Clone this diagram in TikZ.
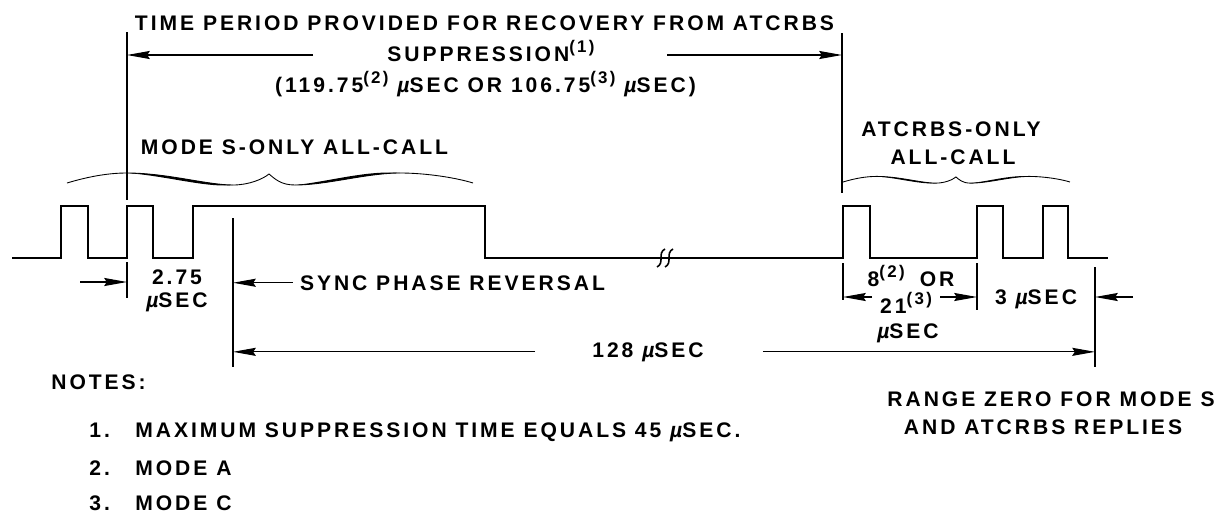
\documentclass[tikz,border=0pt]{standalone}
\usepackage{fontspec}
\setmainfont{Liberation Sans}[LetterSpace=14]
\usetikzlibrary{arrows.meta, positioning}
\tikzstyle{dimarrow} = [line width=0.6pt, -{Stealth[length=13pt,width=4.6pt,inset=1.5pt]}]
\tikzstyle{extline}  = [line width=0.6pt]
\tikzstyle{pulse}    = [line width=1.2pt, line join=miter]
\newcommand{\usec}{{\itshape µ}SEC}
\newcommand{\sref}[1]{\raisebox{4.6pt}{\fontsize{9.6}{10}\selectfont(#1)}}
% calligraphic brace over an all-call group
\tikzset{modebrace/.pic={
    \draw[line width=0.5pt] (0,0) .. controls (20,-6) and (40,-10) .. (60,-10)
        .. controls (100,-10) and (140,2) .. (166,2)
        .. controls (182,2) and (196,-4) .. (202,-9)
        .. controls (208,-4) and (214,2) .. (228,2)
        .. controls (260,2) and (300,-10) .. (333,-10)
        .. controls (360,-10) and (390,-5) .. (406,0);
    \fill (60,-10) .. controls (100,-10) and (140,2) .. (166,2)
        .. controls (140,5) and (100,-7) .. (60,-10);
    \fill (228,2) .. controls (260,2) and (300,-10) .. (333,-10)
        .. controls (300,-13) and (260,-1) .. (228,2);
}}

\begin{document}
\begin{tikzpicture}[x=0.02cm, y=-0.02cm, font=\bfseries\fontsize{12}{14}\selectfont]
        \tikzstyle{lbl}=[inner sep=0pt, anchor=base]
        \useasboundingbox (0,0) rectangle (1229,514);
        % recovery period
        \node (ttl) [lbl] at (484.5,30) {TIME PERIOD PROVIDED FOR RECOVERY FROM ATCRBS};
        \node (sup) [lbl] at (491,61) {SUPPRESSION\sref{1}};
        \node (per) [lbl] at (485.5,92) {(119.75\sref{2} \usec{} OR 106.75\sref{3} \usec)};
        \coordinate (lt) at (127,32);  \coordinate (lb) at (127,200);
        \coordinate (rt) at (842,33);  \coordinate (rb) at (842,193);
        \coordinate (ltail) at (313,55); \coordinate (rtail) at (667,55);
        \draw[extline] (lt) -- (lb);
        \draw[extline] (rt) -- (rb);
        \draw[dimarrow] (ltail) -- (ltail -| lt);
        \draw[dimarrow] (rtail) -- (rtail -| rt);
        % all-call groups
        \node (mso) [lbl] at (294.5,154) {MODE S-ONLY ALL-CALL};
        \node (aco) [lbl] at (951,136) {ATCRBS-ONLY};
        \node (acl) [lbl] at (953,164) {ALL-CALL};
        \pic at (67,183) {modebrace};
        \pic[scale=0.559] at (843,182) {modebrace};
        % pulse train
        \draw[pulse] (12,258) -| (61,206) -| (88,258) -| (127,206) -| (153,258)
            -| (193,206) -| (485,258) -| (843,206) -| (870,258) -| (977,206)
            -| (1003,258) -| (1043,206) -| (1068,258) -- (1108,258);
        \foreach \bx in {661,669}
            \draw[line width=0.9pt] (\bx-4,267) .. controls (\bx+4,263) and (\bx-4,253) .. (\bx+4,249);
        % timing marks
        \coordinate (p2t) at (127,262);  \coordinate (p2b) at (127,298);
        \coordinate (syt) at (233,218);  \coordinate (syb) at (233,367);
        \coordinate (a1t) at (843,263);  \coordinate (a1b) at (843,300);
        \coordinate (a2t) at (977,263);  \coordinate (a2b) at (977,310);
        \coordinate (rzt) at (1095,267); \coordinate (rzb) at (1095,367);
        \foreach \c in {p2,sy,a1,a2,rz}
            \draw[extline] (\c t) -- (\c b);
        \node (tw)  [lbl] at (177,284) {2.75};
        \node (twu) [lbl] at (177,307) {\usec};
        \coordinate (twtail) at (80,282);
        \draw[dimarrow] (twtail) -- (twtail -| p2t);
        \node (syn) [lbl] at (452.5,290) {SYNC PHASE REVERSAL};
        \draw[dimarrow] ([xshift=-0.14cm]syn.west) -- (syn.west -| syt);
        \node (eo)  [lbl] at (911,286) {8\sref{2}\hspace{0.3cm}OR};
        \node (to)  [lbl] at (906,313) {21\sref{3}};
        \node (tou) [lbl] at (908,338) {\usec};
        \coordinate (ltl) at (872,297); \coordinate (rtl) at (940,297);
        \draw[dimarrow] (ltl) -- (ltl -| a1t);
        \draw[dimarrow] (rtl) -- (rtl -| a2t);
        \node (thr) [lbl] at (1036,304) {3 \usec};
        \coordinate (thtail) at (1133,297);
        \draw[dimarrow] (thtail) -- (thtail -| rzt);
        \node (len) [lbl] at (648,357) {128 \usec};
        \draw[dimarrow] ([xshift=-1.14cm]len.west) -- (len.west -| syt);
        \draw[dimarrow] ([xshift=1.18cm]len.east) -- (len.east -| rzt);
        \node (rz1) [lbl] at (1051,406) {RANGE ZERO FOR MODE S};
        \node (rz2) [lbl] at (1043,434) {AND ATCRBS REPLIES};
        % notes
        \node (nts) [lbl, anchor=base west] at (51,389) {NOTES:};
        \node (n1)  [lbl, anchor=base west] at (89,437) {\makebox[0.92cm][l]{1.}MAXIMUM SUPPRESSION TIME EQUALS 45 \usec.};
        \node (n2)  [lbl, anchor=base west] at (89,475) {\makebox[0.92cm][l]{2.}MODE A};
        \node (n3)  [lbl, anchor=base west] at (89,510) {\makebox[0.92cm][l]{3.}MODE C};
    \end{tikzpicture}
\end{document}
